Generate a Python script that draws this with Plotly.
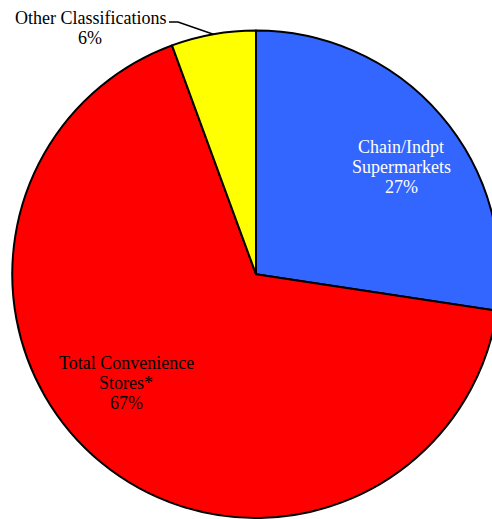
import math
import plotly.graph_objects as go

# ---- data ----
labels = ["Chain/Indpt<br>Supermarkets", "Total Convenience<br>Stores*", "Other Classifications"]
values = [27.4, 67.0, 5.6]
colors = ["#3366FF", "#FF0000", "#FFFF00"]
text_colors = ["white", "black", "black"]
# label centers in pixels (layout only)
label_centers = [(401, 167), (126, 382.5), (90, 28)]

W, H = 512, 519
PIE_L, PIE_R, PIE_T, PIE_B = 12, 500, 30.5, 518
FONT = "Liberation Serif"
FS = 18
LINE = 20


def px(x):
    return x / W


def py(y):
    return 1 - y / H


fig = go.Figure(go.Pie(
    labels=[l.replace("<br>", " ") for l in labels],
    values=values,
    sort=False,
    direction="clockwise",
    rotation=0,
    marker=dict(colors=colors, line=dict(color="black", width=2)),
    textinfo="none",
    hoverinfo="label+percent",
    showlegend=False,
    domain=dict(x=[px(PIE_L), px(PIE_R)], y=[py(PIE_B), py(PIE_T)]),
))

total = sum(values)
annotations = []
for lab, v, tc, (cx, cy) in zip(labels, values, text_colors, label_centers):
    lines = lab.split("<br>") + [f"{round(100 * v / total)}%"]
    n = len(lines)
    for i, t in enumerate(lines):
        yy = cy + (i - (n - 1) / 2) * LINE
        annotations.append(dict(
            x=px(cx), y=py(yy), xref="paper", yref="paper",
            text=t, showarrow=False, xanchor="center", yanchor="middle",
            font=dict(family=FONT, size=FS, color=tc),
        ))

# leader line for the small slice: ends on the pie edge at the slice mid-angle
pcx = (PIE_L + PIE_R) / 2
pcy = (PIE_T + PIE_B) / 2
r = (PIE_B - PIE_T) / 2
start_frac = sum(values[:2]) / total
mid_frac = start_frac + values[2] / total / 2
ang = 2 * math.pi * mid_frac
ex = pcx + r * math.sin(ang)
ey = pcy - r * math.cos(ang)
path = f"M {px(169)} {py(22)} L {px(178)} {py(22)} L {px(ex)} {py(ey)}"

fig.update_layout(
    width=W, height=H,
    margin=dict(l=0, r=0, t=0, b=0),
    paper_bgcolor="white",
    plot_bgcolor="white",
    annotations=annotations,
    shapes=[dict(type="path", xref="paper", yref="paper", path=path,
                 line=dict(color="black", width=1.5))],
)

fig.write_html(
    "out.html",
    post_script=(
        "document.documentElement.style.overflow='hidden';"
        "document.body.style.overflow='hidden';"
        "document.body.style.margin='0';"
    ),
)
